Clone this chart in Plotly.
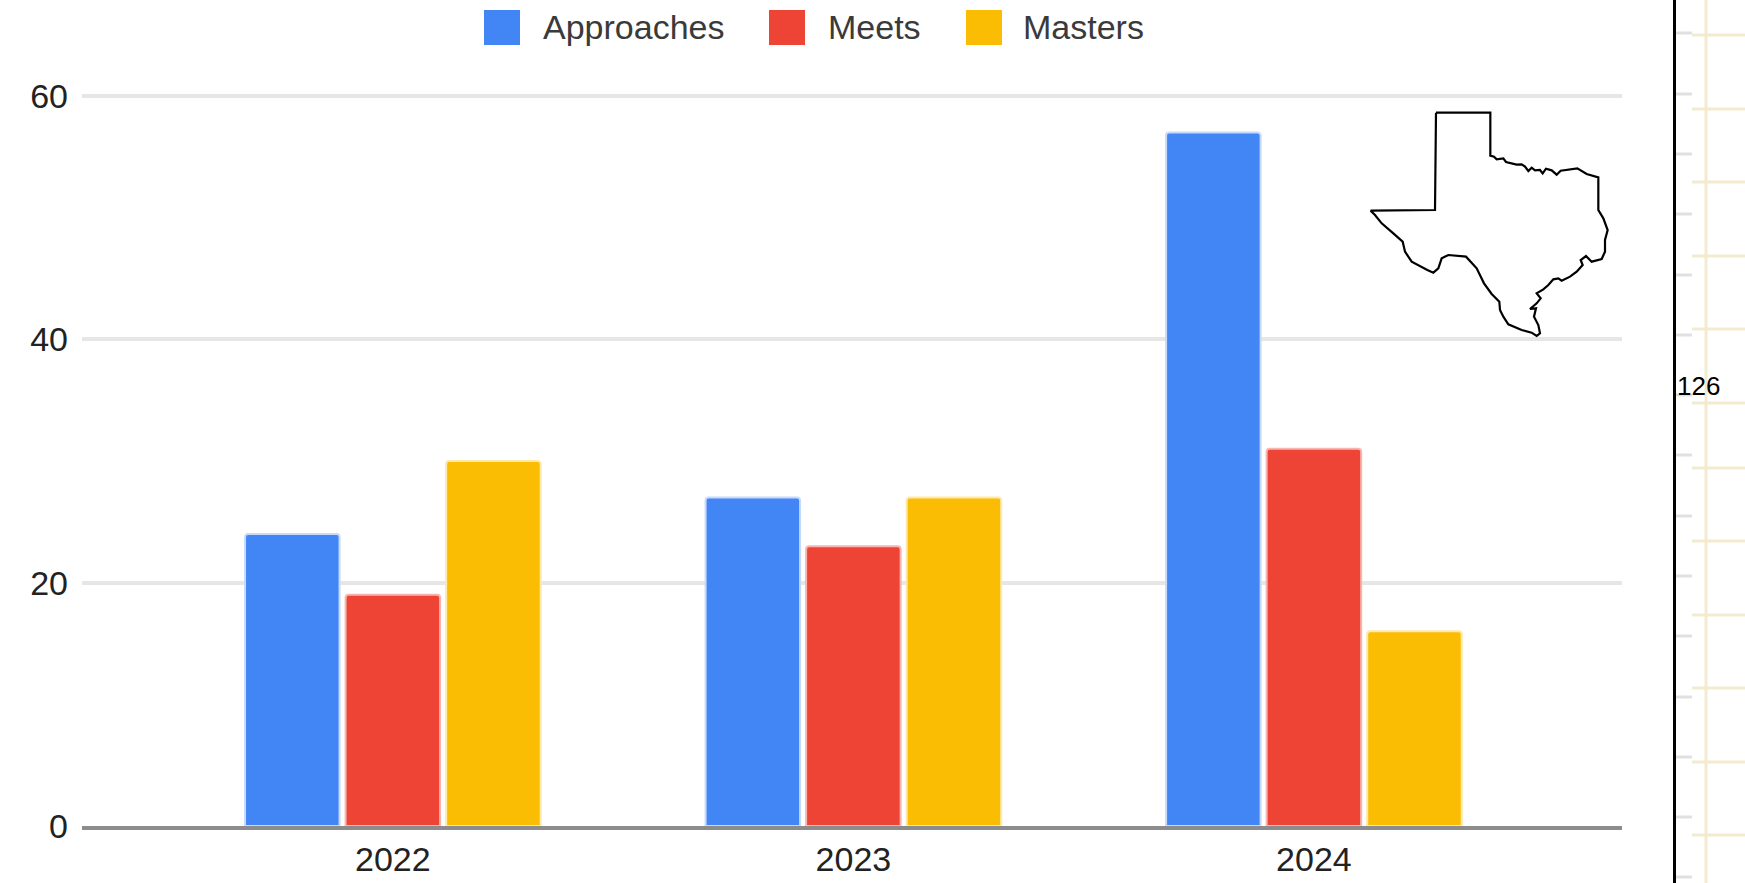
import plotly.graph_objects as go

W, H = 1745, 883
years = ["2022", "2023", "2024"]
approaches = [24, 27, 57]
meets = [19, 23, 31]
masters = [30, 27, 16]
series = [("Approaches", approaches, "#4285F4", "#C6DAFC"),
          ("Meets", meets, "#EE4435", "#F8B4AE"),
          ("Masters", masters, "#FBBC04", "#FEE9A8")]

texas_zoom = [(288,68),(451,68),(451,197),(462,200),(470,208),(490,205),(498,216),(530,224),(545,223),(555,230),
 (565,243),(575,233),(585,241),(600,240),(608,250),(618,236),(635,241),(650,254),(662,242),(690,238),(712,235),
 (740,252),(775,262),(775,360),(790,385),(803,420),(795,450),(795,485),(785,507),(755,515),(738,498),(722,510),
 (728,525),(710,545),(690,560),(665,572),(655,565),(640,568),(625,585),(610,598),(590,610),(602,625),(590,640),
 (570,657),(588,655),(582,680),(595,705),(600,730),(590,738),(575,728),(545,720),(505,703),(490,680),(480,660),
 (478,635),(455,612),(432,580),(410,535),(378,500),(325,495),(305,505),(295,535),(280,548),(262,540),(215,515),
 (195,485),(188,455),(160,430),(125,400),(105,375),(92,362),(285,360),(288,68)]

ruler_gray_y = [33, 94, 154, 214, 275, 335, 395, 455, 516, 576, 636, 697, 757, 817, 877]
ruler_beige_y = [35, 109, 182, 256, 329, 403, 468, 541, 615, 688, 762, 835]

fig = go.Figure()
for name, vals, color, edge in series:
    fig.add_trace(go.Bar(x=years, y=vals, name=name, showlegend=False,
                         marker=dict(color=color, cornerradius=3, line=dict(color=edge, width=2))))

fig.add_trace(go.Scatter(x=[1340 + p[0] / 3 for p in texas_zoom], y=[90 + p[1] / 3 for p in texas_zoom],
                         mode="lines", line=dict(color="#000000", width=2.2), xaxis="x2", yaxis="y2",
                         showlegend=False, hoverinfo="skip"))

shapes = []
def seg(x0, y0, x1, y1, color, w):
    shapes.append(dict(type="line", xref="x2", yref="y2", x0=x0, y0=y0, x1=x1, y1=y1,
                       line=dict(color=color, width=w)))

for y in ruler_gray_y:
    seg(1676, y, 1692, y, "#E0E0E0", 3)
for y in ruler_beige_y:
    seg(1692, y, 1745, y, "#F3EBD0", 3)
seg(1706, 0, 1706, H, "#F3EBD0", 3)
seg(1674.5, 0, 1674.5, H, "#000000", 3)

legend_items = [("Approaches", "#4285F4", 484, 541), ("Meets", "#EE4435", 769, 826), ("Masters", "#FBBC04", 966, 1021)]
annotations = []
for name, color, sx, tx in legend_items:
    shapes.append(dict(type="rect", xref="x2", yref="y2", x0=sx, x1=sx + 36, y0=10, y1=45,
                       fillcolor=color, line=dict(width=0)))
    annotations.append(dict(xref="x2", yref="y2", x=tx, y=27, text=name, showarrow=False, xanchor="left",
                            yanchor="middle", font=dict(family="Liberation Sans", size=34, color="#3A3A3A")))
annotations.append(dict(xref="x2", yref="y2", x=1698, y=386, text="126", showarrow=False, xanchor="center",
                        yanchor="middle", font=dict(family="Liberation Sans", size=26, color="#000000")))

fig.update_layout(
    width=W, height=H, margin=dict(l=0, r=0, t=0, b=0), paper_bgcolor="white", plot_bgcolor="rgba(0,0,0,0)",
    barmode="group", bargap=0.345, bargroupgap=0.06, shapes=shapes, annotations=annotations,
    xaxis=dict(domain=[82 / W, 1622 / W], range=[-0.675, 2.669], showgrid=False, showline=True, automargin=False,
               linecolor="rgba(128,128,128,0.9)", linewidth=4, ticks="", zeroline=False,
               ticklabelstandoff=0, tickfont=dict(family="Liberation Sans", size=34, color="#222222")),
    yaxis=dict(domain=[1 - 826 / H, 1 - 93 / H], range=[0, 60.25], tickvals=[0, 20, 40, 60], gridcolor="#E6E6E6",
               gridwidth=4, zeroline=False, showline=False, ticks="", ticklabelstandoff=13, automargin=False,
               tickfont=dict(family="Liberation Sans", size=34, color="#222222")),
    xaxis2=dict(domain=[0, 1], range=[0, W], anchor="y2", visible=False, fixedrange=True, automargin=False),
    yaxis2=dict(domain=[0, 1], range=[H, 0], anchor="x2", visible=False, fixedrange=True, automargin=False),
)
fig.write_html("out.html", config={"displayModeBar": False},
               post_script="document.body.style.margin='0';document.body.style.overflow='hidden';")
